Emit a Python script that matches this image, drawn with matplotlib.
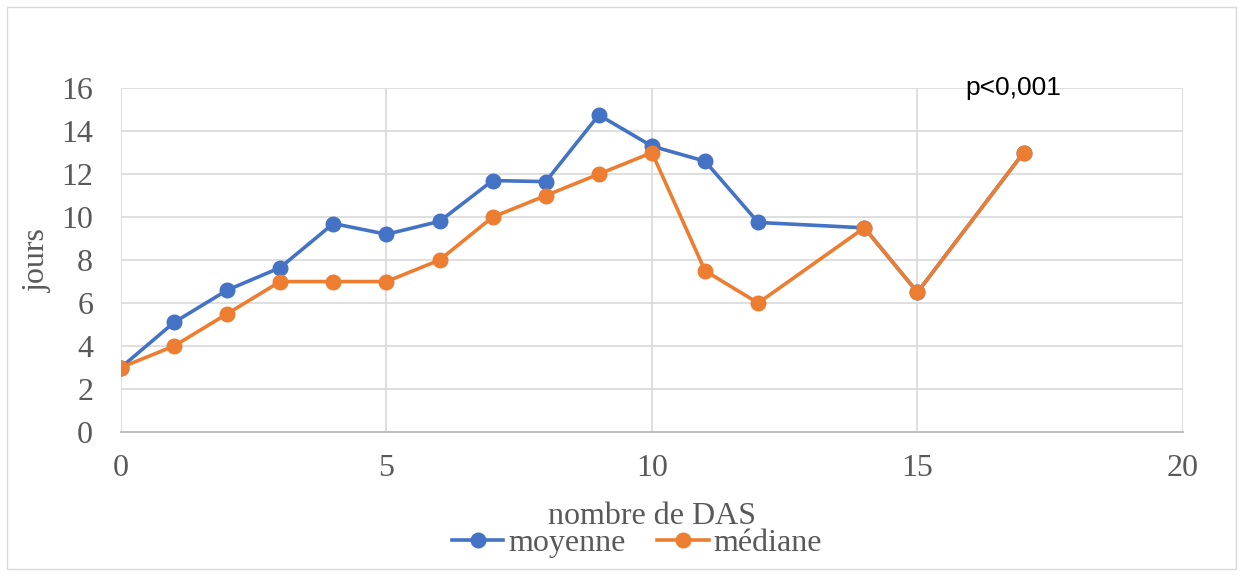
import matplotlib.pyplot as plt
from matplotlib.patches import Rectangle

# données
das_moy = [0, 1, 2, 3, 4, 5, 6, 7, 8, 9, 10, 11, 12, 14, 15, 17]
moyenne = [3, 5.1, 6.6, 7.65, 9.7, 9.2, 9.8, 11.7, 11.65, 14.75, 13.3, 12.6, 9.75, 9.5, 6.5, 13]
das_med = [0, 1, 2, 3, 4, 5, 6, 7, 8, 9, 10, 11, 12, 14, 15, 17]
mediane = [3, 4, 5.5, 7, 7, 7, 8, 10, 11, 12, 13, 7.5, 6, 9.5, 6.5, 13]

x_ticks = [0, 5, 10, 15, 20]
y_ticks = [0, 2, 4, 6, 8, 10, 12, 14, 16]

plt.rcParams['font.family'] = ['Liberation Serif', 'DejaVu Serif']
gris = '#595959'

fig = plt.figure(figsize=(12.43, 5.76), dpi=100)
fig.patches.append(Rectangle((0.006, 0.012), 0.988, 0.976, transform=fig.transFigure,
                             fill=False, edgecolor='#d9d9d9', linewidth=1))
ax = fig.add_axes([0.0973, 0.25, 0.8544, 0.597])

ax.plot(das_moy, moyenne, color='#4472C4', linewidth=2.6, marker='o', markersize=10.5,
        label='moyenne', zorder=3)
ax.plot(das_med, mediane, color='#ED7D31', linewidth=2.6, marker='o', markersize=10.5,
        label='médiane', zorder=4)

ax.set_xlim(0, 20)
ax.set_ylim(0, 16)
ax.set_xticks(x_ticks)
ax.set_yticks(y_ticks)
ax.grid(True, color='#d9d9d9', linewidth=1.2)
ax.set_axisbelow(True)
for s in ['top', 'right', 'left']:
    ax.spines[s].set_visible(False)
ax.spines['bottom'].set_color('#bfbfbf')
ax.spines['bottom'].set_linewidth(1.5)
ax.tick_params(length=0, labelsize=23, labelcolor=gris)
ax.tick_params(axis='x', pad=16)
ax.tick_params(axis='y', pad=20)

ax.set_xlabel('nombre de DAS', fontsize=23, color=gris)
ax.xaxis.set_label_coords(0.5, -0.205)
ax.set_ylabel('jours', fontsize=23, color=gris)
ax.yaxis.set_label_coords(-0.065, 0.5)

ax.text(16.8, 16, 'p<0,001', fontsize=19, color='black', ha='center', va='center',
        family=['Liberation Sans', 'DejaVu Sans'])

leg = ax.legend(loc='center', bbox_to_anchor=(0.486, -0.325), ncol=2, frameon=False,
                fontsize=23, handlelength=1.6, handletextpad=0.15, columnspacing=1.0,
                borderpad=0)
for t in leg.get_texts():
    t.set_color(gris)

fig.savefig('out.png', dpi=100)
